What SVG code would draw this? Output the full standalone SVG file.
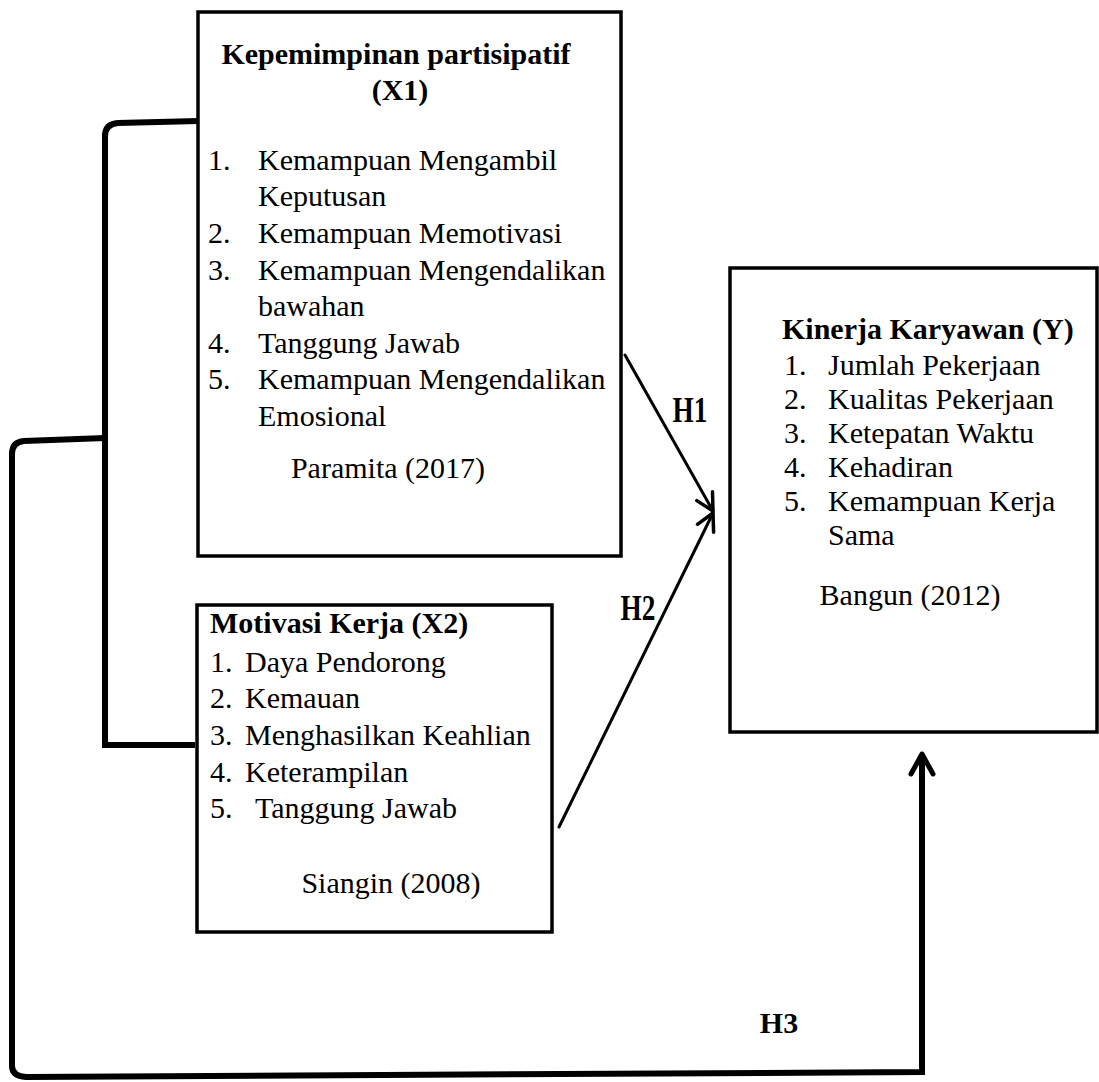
<svg xmlns="http://www.w3.org/2000/svg" width="1099" height="1082" viewBox="0 0 1099 1082">
<defs>
<style>
.box{fill:#fff;stroke:#000;stroke-width:3.5}
.t{font-family:"Liberation Serif","Times New Roman",serif;font-size:30px;fill:#000}
.b{font-weight:bold}
.c{text-anchor:middle}
.lnk{fill:none;stroke:#000;stroke-width:3;stroke-linecap:round}
.brk{fill:none;stroke:#000;stroke-width:6}
.h{font-family:"Liberation Serif","Times New Roman",serif;font-weight:bold;font-size:30px;fill:#000}
.hs{font-size:35px}
</style>
<marker id="ah" markerWidth="26" markerHeight="26" viewBox="0 0 26 26" refX="21" refY="13" orient="auto" markerUnits="userSpaceOnUse">
<path d="M4,4 L21,13 L4,22" fill="none" stroke="#000" stroke-width="3.5" stroke-linecap="round" stroke-linejoin="round"/>
</marker>
<marker id="ah3" markerWidth="30" markerHeight="30" viewBox="0 0 30 30" refX="25" refY="15" orient="auto" markerUnits="userSpaceOnUse">
<path d="M5,4 L25,15 L5,26" fill="none" stroke="#000" stroke-width="5" stroke-linecap="round" stroke-linejoin="round"/>
</marker>
</defs>
<rect width="1099" height="1082" fill="#fff"/>
<g id="connectors">
<path class="brk" d="M198,121 L118,123 Q105,124 105,136 L105,745 L195,745"/>
<path class="brk" d="M105,438 L24,441 Q12,442 12,454 L12,1066 Q12,1076 26,1077 L922,1072 L922,754" marker-end="url(#ah3)"/>
<path class="lnk" d="M625,355 L713,511" marker-end="url(#ah)"/>
<path class="lnk" d="M559,827 L713,513" marker-end="url(#ah)"/>
<text class="h hs" x="690" y="422" text-anchor="middle" transform="translate(690 0) scale(0.78 1) translate(-690 0)">H1</text>
<text class="h hs" x="638" y="620" text-anchor="middle" transform="translate(638 0) scale(0.78 1) translate(-638 0)">H2</text>
<text class="h" x="779" y="1033" text-anchor="middle">H3</text>
</g>
<g id="x1">
<rect class="box" x="198" y="12" width="423" height="544"/>
<text class="t b c" x="396" y="64">Kepemimpinan partisipatif</text>
<text class="t b c" x="400" y="100">(X1)</text>
<text class="t" x="208" y="170">1.</text><text class="t" x="258" y="170">Kemampuan Mengambil</text>
<text class="t" x="258" y="206">Keputusan</text>
<text class="t" x="208" y="243">2.</text><text class="t" x="258" y="243">Kemampuan Memotivasi</text>
<text class="t" x="208" y="280">3.</text><text class="t" x="258" y="280">Kemampuan Mengendalikan</text>
<text class="t" x="258" y="316">bawahan</text>
<text class="t" x="208" y="353">4.</text><text class="t" x="258" y="353">Tanggung Jawab</text>
<text class="t" x="208" y="389">5.</text><text class="t" x="258" y="389">Kemampuan Mengendalikan</text>
<text class="t" x="258" y="426">Emosional</text>
<text class="t c" x="388" y="478">Paramita (2017)</text>
</g>
<g id="x2">
<rect class="box" x="197" y="605" width="355" height="327"/>
<text class="t b" x="210" y="633">Motivasi Kerja (X2)</text>
<text class="t" x="210" y="672">1.</text><text class="t" x="245" y="672">Daya Pendorong</text>
<text class="t" x="210" y="708">2.</text><text class="t" x="245" y="708">Kemauan</text>
<text class="t" x="210" y="745">3.</text><text class="t" x="245" y="745">Menghasilkan Keahlian</text>
<text class="t" x="210" y="782">4.</text><text class="t" x="245" y="782">Keterampilan</text>
<text class="t" x="210" y="818">5.</text><text class="t" x="255" y="818">Tanggung Jawab</text>
<text class="t c" x="391" y="893">Siangin (2008)</text>
</g>
<g id="y">
<rect class="box" x="730" y="268" width="367" height="464"/>
<text class="t b" x="782" y="339">Kinerja Karyawan (Y)</text>
<text class="t" x="784" y="375">1.</text><text class="t" x="828" y="375">Jumlah Pekerjaan</text>
<text class="t" x="784" y="409">2.</text><text class="t" x="828" y="409">Kualitas Pekerjaan</text>
<text class="t" x="784" y="443">3.</text><text class="t" x="828" y="443">Ketepatan Waktu</text>
<text class="t" x="784" y="477">4.</text><text class="t" x="828" y="477">Kehadiran</text>
<text class="t" x="784" y="511">5.</text><text class="t" x="828" y="511">Kemampuan Kerja</text>
<text class="t" x="828" y="545">Sama</text>
<text class="t c" x="910" y="605">Bangun (2012)</text>
</g>
</svg>
